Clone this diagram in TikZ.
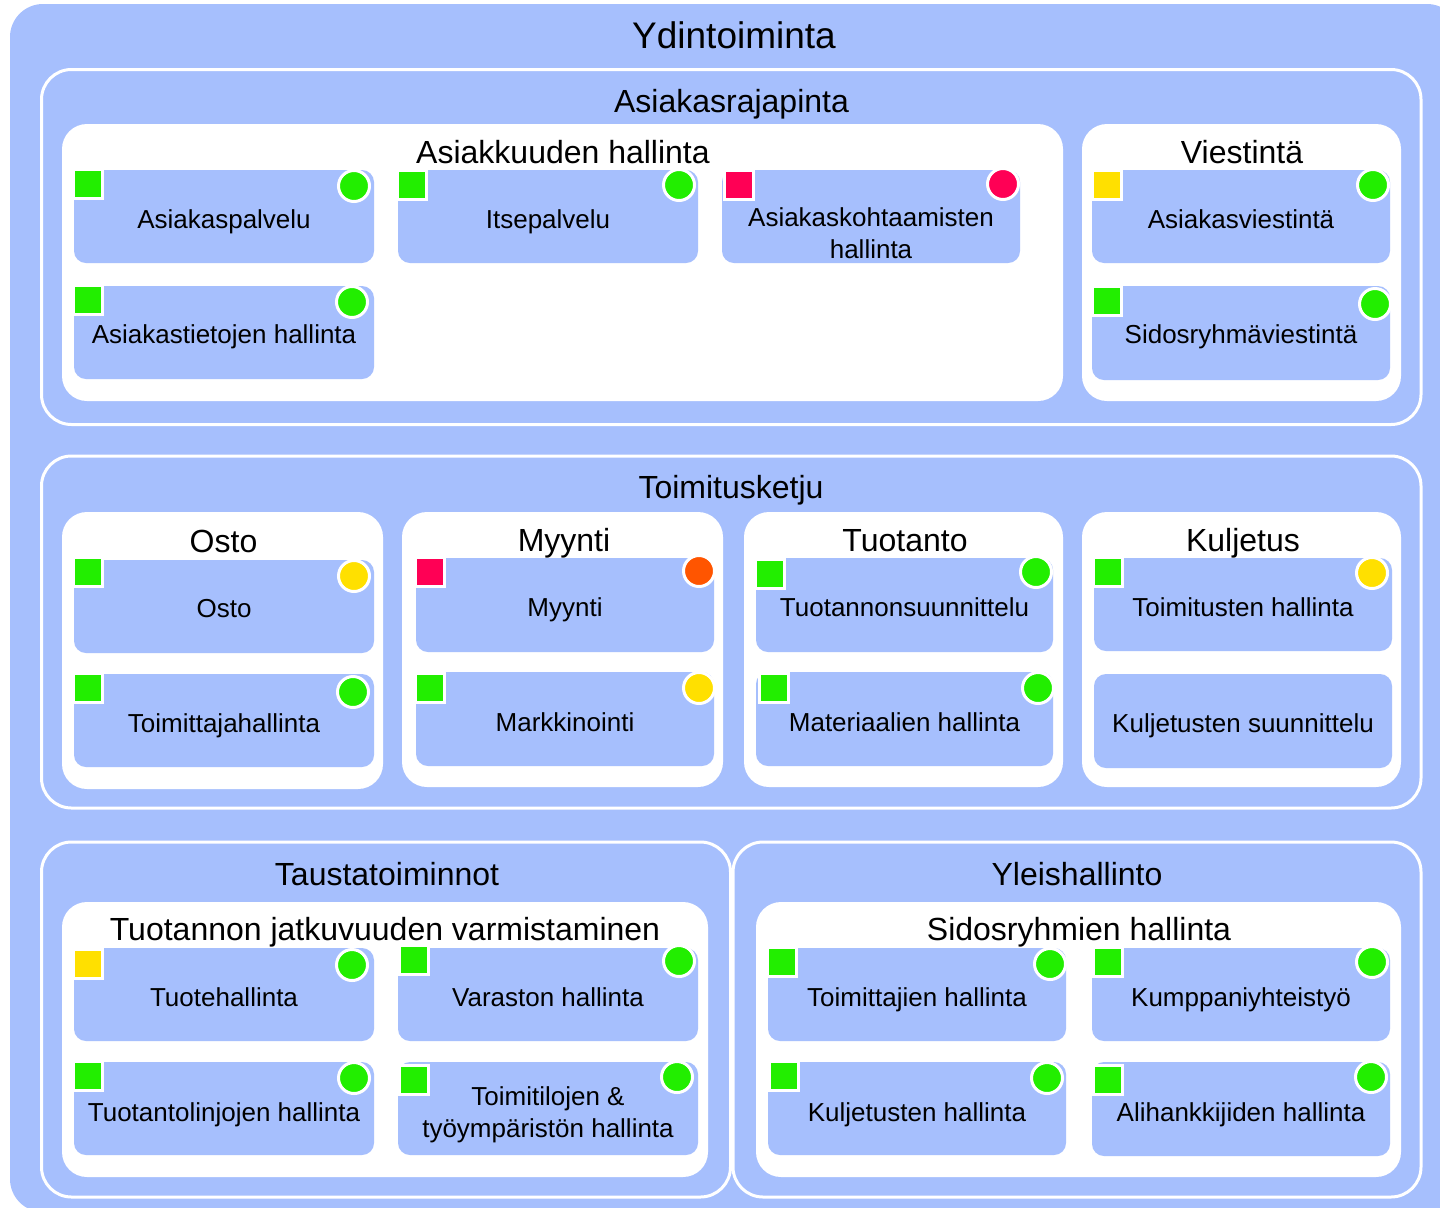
\documentclass[tikz,border=0pt]{standalone}
\usepackage{fontspec}
\setmainfont{Liberation Sans}
\definecolor{bg}{HTML}{A6BFFD}
\definecolor{cg}{HTML}{22EE00}
\definecolor{cy}{HTML}{FFE000}
\definecolor{cr}{HTML}{FF0055}
\definecolor{co}{HTML}{FF5500}
\tikzset{
  outerbox/.style={fill=bg, rounded corners=33bp},
  layerbox/.style={fill=bg, draw=white, line width=3bp, rounded corners=30bp},
  grpbox/.style={fill=white, rounded corners=25bp},
  elem/.style={fill=bg, rounded corners=12bp, inner sep=0pt, outer sep=0pt},
  elemtext/.style={anchor=base, inner sep=0pt, align=center,
    font=\fontsize{26bp}{32bp}\selectfont},
  sqr/.style={draw=white, line width=3bp, minimum size=29bp, inner sep=0pt, outer sep=0pt},
  dotc/.style={circle, draw=white, line width=3bp, minimum size=31bp, inner sep=0pt, outer sep=0pt},
  bigtitle/.style={anchor=base, inner sep=0pt, font=\fontsize{37bp}{40bp}\selectfont},
  title/.style={anchor=base, inner sep=0pt, font=\fontsize{32bp}{36bp}\selectfont},
}
\newcommand\elm[7]{\node[elem, minimum width={(#4-#2)*1bp}, minimum height={(#5-#3)*1bp}] (#1) at ({(#2+#4)/2},{(#3+#5)/2}) {};
  \node[elemtext] (#1-t) at ({(#2+#4)/2},{#3+#7}) {#6};}
\newcommand\sqm[4]{\node[sqr, fill=#2] (#1) at ({#3+13.5},{#4+13.5}) {};}
\newcommand\dotm[4]{\node[dotc, fill=#2] (#1) at (#3,#4) {};}
\begin{document}
\begin{tikzpicture}[x=1bp,y=-1bp]
\useasboundingbox (0,0) rectangle (1440,1207);
\clip (0,0) rectangle (1440,1207);
\path[outerbox] (10,4) rectangle (1460,1212);
% layers
\path[layerbox] (41.5,69.5) rectangle (1421,424.5);
\path[layerbox] (41.5,456) rectangle (1421,808);
\path[layerbox] (41.5,842) rectangle (730.5,1197);
\path[layerbox] (733,842) rectangle (1421,1197);
% groups
\path[grpbox] (62,124) rectangle (1063,401);
\path[grpbox] (1082,124) rectangle (1401,401);
\path[grpbox] (62,512) rectangle (383,789);
\path[grpbox] (402,512) rectangle (723,787);
\path[grpbox] (744,512) rectangle (1063,787);
\path[grpbox] (1082,512) rectangle (1401,787);
\path[grpbox] (62,902) rectangle (708,1177);
\path[grpbox] (756,902) rectangle (1401,1177);
% titles
\node[bigtitle] (t-ydin) at (734,48) {Ydintoiminta};
\node[title] (t-ar) at (731.5,112) {Asiakasrajapinta};
\node[title] (t-ah) at (563,163) {Asiakkuuden hallinta};
\node[title] (t-vi) at (1242,163) {Viestintä};
\node[title] (t-tk) at (731,498) {Toimitusketju};
\node[title] (t-os) at (223.5,552) {Osto};
\node[title] (t-my) at (564,551) {Myynti};
\node[title] (t-tu) at (905,551) {Tuotanto};
\node[title] (t-ku) at (1243,551) {Kuljetus};
\node[title] (t-ta) at (387,885) {Taustatoiminnot};
\node[title] (t-yl) at (1077,885) {Yleishallinto};
\node[title] (t-tj) at (385,940) {Tuotannon jatkuvuuden varmistaminen};
\node[title] (t-sh) at (1079,940) {Sidosryhmien hallinta};
% elements
\elm{asp}{74}{170}{374}{263}{Asiakaspalvelu}{58}
\sqm{asp-s}{cg}{74}{170}\dotm{asp-c}{cg}{354}{186}
\elm{itp}{398}{170}{698}{263}{Itsepalvelu}{58}
\sqm{itp-s}{cg}{398}{171}\dotm{itp-c}{cg}{679}{185}
\elm{akh}{722}{170}{1020}{263}{Asiakaskohtaamisten\\hallinta}{88}
\sqm{akh-s}{cr}{725}{171}\dotm{akh-c}{cr}{1003}{184}
\elm{ath}{74}{286}{374}{379}{Asiakastietojen hallinta}{57}
\sqm{ath-s}{cg}{74}{286}\dotm{ath-c}{cg}{352}{302}
\elm{asv}{1092}{170}{1390}{263}{Asiakasviestintä}{58}
\sqm{asv-s}{cy}{1093}{171}\dotm{asv-c}{cg}{1373}{185}
\elm{srv}{1092}{286}{1390}{380}{Sidosryhmäviestintä}{57}
\sqm{srv-s}{cg}{1093}{287}\dotm{srv-c}{cg}{1375}{304}
%
\elm{osto}{74}{560}{374}{653}{Osto}{57}
\sqm{osto-s}{cg}{74}{558}\dotm{osto-c}{cy}{354}{576}
\elm{tmh}{74}{674}{374}{767}{Toimittajahallinta}{58}
\sqm{tmh-s}{cg}{74}{674}\dotm{tmh-c}{cg}{353}{692}
\elm{myy}{416}{558}{714}{652}{Myynti}{58}
\sqm{myy-s}{cr}{416}{558}\dotm{myy-c}{co}{699}{571}
\elm{mrk}{416}{672}{714}{766}{Markkinointi}{59}
\sqm{mrk-s}{cg}{416}{674}\dotm{mrk-c}{cy}{699}{688}
\elm{tsu}{756}{558}{1053}{652}{Tuotannonsuunnittelu}{58}
\sqm{tsu-s}{cg}{756}{560}\dotm{tsu-c}{cg}{1036}{572}
\elm{mah}{756}{672}{1053}{766}{Materiaalien hallinta}{59}
\sqm{mah-s}{cg}{760}{674}\dotm{mah-c}{cg}{1038}{688}
\elm{toh}{1094}{558}{1392}{651}{Toimitusten hallinta}{58}
\sqm{toh-s}{cg}{1094}{558}\dotm{toh-c}{cy}{1372}{573}
\elm{kus}{1094}{674}{1392}{768}{Kuljetusten suunnittelu}{58}
%
\elm{tuh}{74}{948}{374}{1041}{Tuotehallinta}{58}
\sqm{tuh-s}{cy}{74}{950}\dotm{tuh-c}{cg}{352}{965}
\elm{vah}{398}{948}{698}{1041}{Varaston hallinta}{58}
\sqm{vah-s}{cg}{400}{946}\dotm{vah-c}{cg}{679}{961}
\elm{tlh}{74}{1062}{374}{1155}{Tuotantolinjojen hallinta}{59}
\sqm{tlh-s}{cg}{74}{1062}\dotm{tlh-c}{cg}{354}{1078}
\elm{tth}{398}{1062}{698}{1155}{Toimitilojen \&\\työympäristön hallinta}{75}
\sqm{tth-s}{cg}{400}{1066}\dotm{tth-c}{cg}{677}{1077}
%
\elm{tjh}{768}{948}{1066}{1041}{Toimittajien hallinta}{58}
\sqm{tjh-s}{cg}{768}{948}\dotm{tjh-c}{cg}{1050}{964}
\elm{kyt}{1092}{948}{1390}{1041}{Kumppaniyhteistyö}{58}
\sqm{kyt-s}{cg}{1094}{948}\dotm{kyt-c}{cg}{1372}{962}
\elm{kuh}{768}{1062}{1066}{1155}{Kuljetusten hallinta}{59}
\sqm{kuh-s}{cg}{770}{1062}\dotm{kuh-c}{cg}{1047}{1078}
\elm{alh}{1092}{1062}{1390}{1156}{Alihankkijiden hallinta}{59}
\sqm{alh-s}{cg}{1094}{1066}\dotm{alh-c}{cg}{1371}{1077}
\end{tikzpicture}
\end{document}
